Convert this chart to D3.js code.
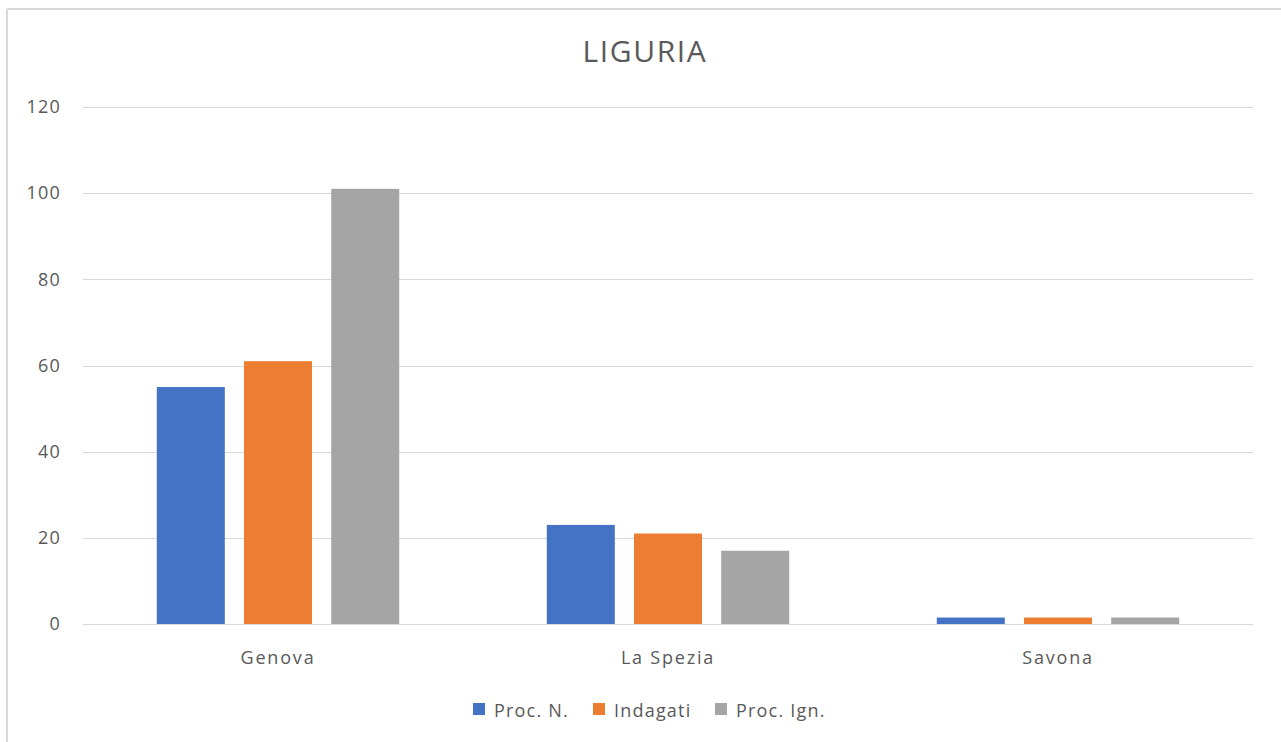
<!DOCTYPE html>
<html>
<head>
<meta charset="utf-8">
<script src="https://cdn.jsdelivr.net/npm/d3@7"></script>
<style>
  html, body { margin: 0; padding: 0; background: #fff; }
  svg { display: block; }
  text { font-family: "Open Sans", "Noto Sans", sans-serif; fill: #595959; }
</style>
</head>
<body>
<svg id="chart" width="1281" height="742"></svg>
<script>
const title = "LIGURIA";
const categories = ["Genova", "La Spezia", "Savona"];
const seriesNames = ["Proc. N.", "Indagati", "Proc. Ign."];
const procN = [55, 23, 1.5];
const indagati = [61, 21, 1.5];
const procIgn = [101, 17, 1.5];
const yTicks = [0, 20, 40, 60, 80, 100, 120];
const colors = ["#4472C4", "#ED7D31", "#A5A5A5"];

const seriesValues = [procN, indagati, procIgn];
const data = categories.map((c, i) => ({
  cat: c,
  vals: seriesNames.map((s, j) => ({ key: s, value: seriesValues[j][i], color: colors[j] }))
}));

const svg = d3.select("#chart");
const W = 1281, H = 742;
const plot = { left: 83, right: 1253, top: 107, bottom: 624 };

// frame lines (top + left)
svg.append("line").attr("x1", 7).attr("x2", W).attr("y1", 9).attr("y2", 9)
  .attr("stroke", "#d9d9d9").attr("stroke-width", 2);
svg.append("line").attr("x1", 7).attr("x2", 7).attr("y1", 9).attr("y2", H)
  .attr("stroke", "#d9d9d9").attr("stroke-width", 2);

const x0 = d3.scaleBand().domain(categories).range([plot.left, plot.right]).padding(0);
const x1 = d3.scaleBand().domain(seriesNames).range([0, x0.bandwidth()])
  .paddingInner(0.22).paddingOuter(0.846);
const y = d3.scaleLinear().domain([0, 120]).range([plot.bottom, plot.top]);

// gridlines
svg.append("g").selectAll("line").data(yTicks).join("line")
  .attr("x1", plot.left).attr("x2", plot.right)
  .attr("y1", d => Math.round(y(d)) + 0.5).attr("y2", d => Math.round(y(d)) + 0.5)
  .attr("stroke", "#d9d9d9").attr("stroke-width", 1);

// y axis labels
const yAxis = d3.axisLeft(y).tickValues(yTicks).tickSize(0).tickPadding(0);
const gy = svg.append("g").attr("transform", `translate(61,0)`).call(yAxis);
gy.select(".domain").remove();
gy.selectAll("text").attr("font-size", 18).attr("letter-spacing", 1.2)
  .style("font-family", '"Open Sans", sans-serif').attr("fill", "#595959");

// bars
const groups = svg.append("g").selectAll("g").data(data).join("g")
  .attr("transform", d => `translate(${x0(d.cat)},0)`);
groups.selectAll("rect").data(d => d.vals).join("rect")
  .attr("x", d => x1(d.key))
  .attr("width", x1.bandwidth())
  .attr("y", d => y(d.value))
  .attr("height", d => y(0) - y(d.value))
  .attr("fill", d => d.color);

// x axis labels
const xAxis = d3.axisBottom(x0).tickSize(0).tickPadding(0);
const gx = svg.append("g").attr("transform", `translate(0,${plot.bottom + 27})`).call(xAxis);
gx.select(".domain").remove();
gx.selectAll("text").attr("font-size", 18).attr("letter-spacing", 1.8)
  .style("font-family", '"Open Sans", sans-serif').attr("fill", "#595959");

// title
svg.append("text").attr("x", 645).attr("y", 62).attr("text-anchor", "middle")
  .attr("font-size", 30).attr("letter-spacing", 1.6).text(title);

// legend
const legendX = [473, 593, 715];
const lg = svg.append("g").selectAll("g").data(seriesNames).join("g")
  .attr("transform", (d, i) => `translate(${legendX[i]},703)`);
lg.append("rect").attr("width", 12).attr("height", 12).attr("fill", (d, i) => colors[i]);
lg.append("text").attr("x", 21).attr("y", 14).attr("font-size", 18).attr("letter-spacing", 1.2).text(d => d);
</script>
</body>
</html>
